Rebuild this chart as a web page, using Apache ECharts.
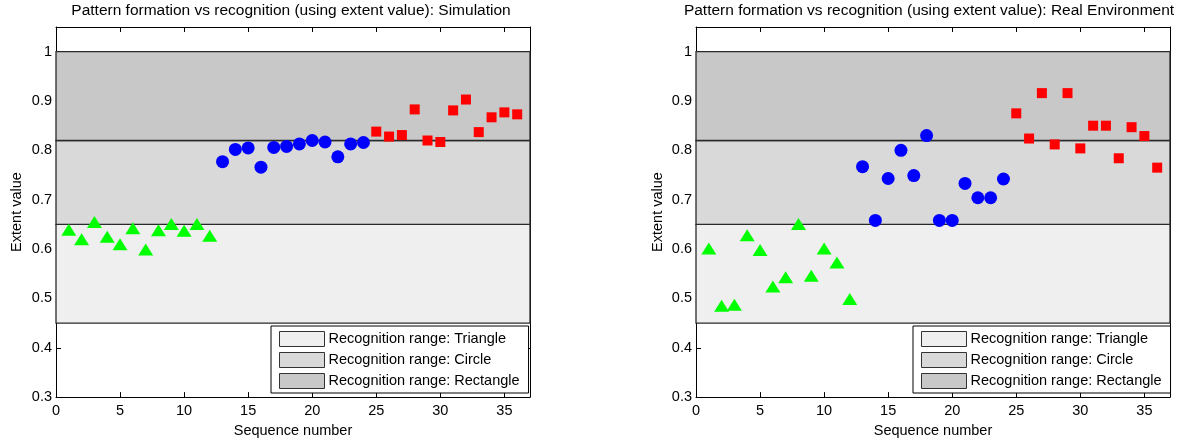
<!DOCTYPE html>
<html>
<head>
<meta charset="utf-8">
<script src="https://cdn.jsdelivr.net/npm/echarts@6/dist/echarts.min.js"></script>
<style>html,body{margin:0;padding:0;background:#fff}#c{width:1200px;height:443px}</style>
</head>
<body>
<div id="c"></div>
<script>
// ---- Data ----
const titles = ['Pattern formation vs recognition (using extent value): Simulation',
                'Pattern formation vs recognition (using extent value): Real Environment'];
const xTicks = [0, 5, 10, 15, 20, 25, 30, 35];
const yTicks = [0.3, 0.4, 0.5, 0.6, 0.7, 0.8, 0.9, 1];
const triSeq = [1, 2, 3, 4, 5, 6, 7, 8, 9, 10, 11, 12];
const cirSeq = [13, 14, 15, 16, 17, 18, 19, 20, 21, 22, 23, 24];
const rectSeq = [25, 26, 27, 28, 29, 30, 31, 32, 33, 34, 35, 36];
const simTri = [0.639, 0.620, 0.655, 0.625, 0.610, 0.642, 0.599, 0.638, 0.651, 0.637, 0.651, 0.627];
const simCir = [0.777, 0.802, 0.805, 0.766, 0.806, 0.808, 0.813, 0.820, 0.817, 0.787, 0.813, 0.816];
const simRect = [0.838, 0.828, 0.831, 0.883, 0.820, 0.817, 0.881, 0.903, 0.837, 0.867, 0.877, 0.873];
const realTri = [0.601, 0.485, 0.487, 0.628, 0.598, 0.524, 0.543, 0.651, 0.546, 0.601, 0.573, 0.499];
const realCir = [0.767, 0.658, 0.743, 0.800, 0.749, 0.830, 0.658, 0.658, 0.733, 0.704, 0.704, 0.742];
const realRect = [0.875, 0.824, 0.916, 0.812, 0.916, 0.804, 0.850, 0.850, 0.784, 0.847, 0.829, 0.765];
const bandNames = ['Recognition range: Triangle', 'Recognition range: Circle', 'Recognition range: Rectangle'];
const bandLow = [0.45, 0.65, 0.82];
const bandHigh = [0.65, 0.82, 1.0];
const bandX = [0, 37];

// ---- Chart ----
const FONT = 'Liberation Sans';
const bandColors = ['#efefef', '#d9d9d9', '#c8c8c8'];
const grids = [
  {left: 56, right: 670, top: 27, bottom: 44},
  {left: 696, right: 30, top: 27, bottom: 44}
];
const chart = echarts.init(document.getElementById('c'), null, {renderer: 'canvas'});

const xAxes = [], yAxes = [], series = [], legends = [], titleArr = [];
const pairs = [[simTri, simCir, simRect], [realTri, realCir, realRect]];
const yNameGap = [32, 31];

grids.forEach((g, gi) => {
  const commonX = {
    type: 'value', gridIndex: gi, min: 0, max: 37, interval: 5,
    splitLine: {show: false},
    axisLine: {show: true, onZero: false, lineStyle: {color: '#000', width: 1}},
    axisTick: {show: true, inside: true, length: 5, lineStyle: {color: '#000'}},
    axisLabel: {show: true, color: '#000', fontFamily: FONT, fontSize: 14.5, margin: 6,
      formatter: v => (xTicks.indexOf(v) >= 0 ? String(v) : '')}
  };
  xAxes.push(Object.assign({}, commonX, {
    position: 'bottom', name: 'Sequence number', nameLocation: 'middle', nameGap: 23,
    nameTextStyle: {color: '#000', fontFamily: FONT, fontSize: 14.5}
  }));
  xAxes.push(Object.assign({}, commonX, {position: 'top', axisLabel: {show: false}}));
  const commonY = {
    type: 'value', gridIndex: gi, min: 0.3, max: 1.05, interval: 0.1,
    splitLine: {show: false},
    axisLine: {show: true, onZero: false, lineStyle: {color: '#000', width: 1}},
    axisTick: {show: true, inside: true, length: 5, lineStyle: {color: '#000'}},
    axisLabel: {show: true, color: '#000', fontFamily: FONT, fontSize: 14.5, margin: 4,
      formatter: v => { const r = Math.round(v * 10) / 10; return yTicks.indexOf(r) >= 0 ? String(r) : ''; }}
  };
  yAxes.push(Object.assign({}, commonY, {
    position: 'left', name: 'Extent value', nameLocation: 'middle', nameGap: yNameGap[gi],
    nameTextStyle: {color: '#000', fontFamily: FONT, fontSize: 14.5}
  }));
  yAxes.push(Object.assign({}, commonY, {position: 'right', axisLabel: {show: false}}));

  const xi = gi * 2, yi = gi * 2;
  // bands
  bandNames.forEach((nm, bi) => {
    series.push({
      type: 'custom', name: nm, xAxisIndex: xi, yAxisIndex: yi, z: 1, silent: true,
      itemStyle: {color: bandColors[bi], borderColor: '#333', borderWidth: 1},
      data: [[bandX[0], bandX[1], bandLow[bi], bandHigh[bi]]],
      renderItem: (params, api) => {
        const p0 = api.coord([api.value(0), api.value(3)]);
        const p1 = api.coord([api.value(1), api.value(2)]);
        return {type: 'rect',
          shape: {x: p0[0], y: p0[1], width: p1[0] - p0[0], height: p1[1] - p0[1]},
          style: {fill: bandColors[bi], stroke: '#2a2a2a', lineWidth: 1.3}};
      }
    });
  });
  const [tri, cir, rect] = pairs[gi];
  series.push({type: 'scatter', xAxisIndex: xi, yAxisIndex: yi, z: 5, symbol: 'triangle',
    symbolSize: [15, 12], itemStyle: {color: '#00ff00', opacity: 1},
    data: triSeq.map((s, i) => [s, tri[i]])});
  series.push({type: 'scatter', xAxisIndex: xi, yAxisIndex: yi, z: 5, symbol: 'circle',
    symbolSize: 13, itemStyle: {color: '#0000ff', opacity: 1},
    data: cirSeq.map((s, i) => [s, cir[i]])});
  series.push({type: 'scatter', xAxisIndex: xi, yAxisIndex: yi, z: 5, symbol: 'rect',
    symbolSize: 10, itemStyle: {color: '#ff0000', opacity: 1},
    data: rectSeq.map((s, i) => [s, rect[i]])});

  legends.push({
    data: bandNames.map((n, bi) => ({name: n, icon: 'rect',
      itemStyle: {color: bandColors[bi], borderColor: '#333', borderWidth: 1}})),
    orient: 'vertical', left: [271, 913][gi], top: 326,
    backgroundColor: '#fff', borderColor: '#000', borderWidth: 1,
    padding: [5, 9, 4, 8], itemWidth: 45, itemHeight: 15, itemGap: 5,
    selectedMode: false, z: 10,
    textStyle: {color: '#000', fontFamily: FONT, fontSize: 14.5, padding: [0, 0, 0, -1]}
  });
  titleArr.push({text: titles[gi], left: [291, 929][gi], top: 3, textAlign: 'center', padding: 0,
    textStyle: {color: '#000', fontFamily: FONT, fontSize: 15.5, fontWeight: 'normal'}});
});

chart.setOption({
  animation: false,
  backgroundColor: '#fff',
  title: titleArr,
  grid: grids,
  xAxis: xAxes,
  yAxis: yAxes,
  legend: legends,
  series: series
});
</script>
</body>
</html>
